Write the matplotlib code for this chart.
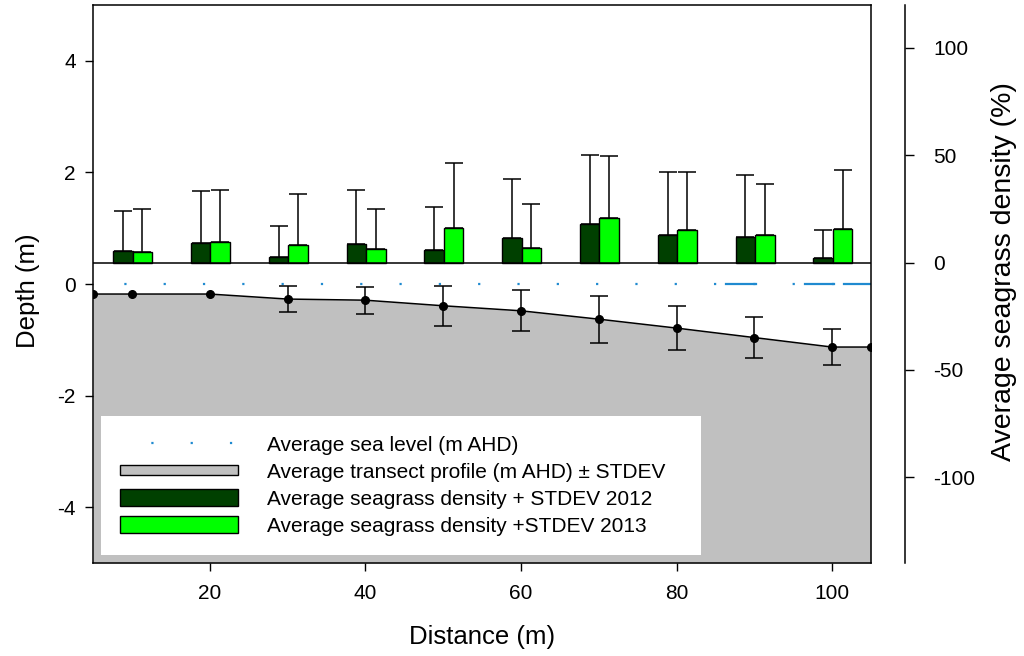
import matplotlib
matplotlib.use("Agg")
from matplotlib import pyplot as plt
import matplotlib.patches as mpatches
from matplotlib.legend_handler import HandlerPatch
import numpy as np

# transect profile (m AHD)
distance = [5, 10, 20, 30, 40, 50, 60, 70, 80, 90, 100, 105]
depth = [-0.18, -0.18, -0.18, -0.27, -0.29, -0.39, -0.48, -0.63, -0.79, -0.96, -1.13, -1.13]
depth_sd = [0, 0, 0, 0.24, 0.24, 0.36, 0.37, 0.42, 0.40, 0.37, 0.32, 0]

# sea level
sea_x = [5, 105]
sea_level = [0.0, 0.0]
sea_dash_x = [(86.4, 90.2), (96.5, 100.3), (101.5, 105)]

# seagrass density (%)
groups = [10, 20, 30, 40, 50, 60, 70, 80, 90, 100]
dens_2012 = [5.5, 9.0, 2.6, 8.7, 5.9, 11.4, 17.9, 12.9, 12.0, 2.2]
sd_2012 = [18.3, 24.2, 14.4, 25.1, 19.9, 27.4, 32.2, 29.3, 28.8, 12.9]
dens_2013 = [4.8, 9.7, 8.3, 6.1, 16.2, 6.9, 20.7, 15.1, 12.8, 15.6]
sd_2013 = [20.1, 24.1, 23.6, 18.8, 30.2, 20.2, 28.8, 27.0, 23.8, 27.7]

labels = ["Average sea level (m AHD)",
          "Average transect profile (m AHD) \u00b1 STDEV",
          "Average seagrass density + STDEV 2012",
          "Average seagrass density +STDEV 2013"]

plt.rcParams['font.family'] = ['Liberation Sans', 'DejaVu Sans']
plt.rcParams['axes.unicode_minus'] = False

dark = "#004000"
bright = "#00ff00"
grey = "#c0c0c0"
blue = "#1f8ad0"

fig = plt.figure(figsize=(10.24, 6.56), dpi=100)
ax = fig.add_axes([93/1024, 1-563/656, 778/1024, 558/656])
ax.set_xlim(5, 105)
ax.set_ylim(-5, 5)

# profile
ax.fill_between(distance, depth, -5, color=grey, lw=0, zorder=1)
ax.plot(distance, depth, color="black", lw=1.1, marker="o", ms=5.5, zorder=3)
idx = [i for i, s in enumerate(depth_sd) if s > 0]
ax.errorbar([distance[i] for i in idx], [depth[i] for i in idx],
            yerr=[depth_sd[i] for i in idx], fmt="none", ecolor="black",
            elinewidth=1.1, capsize=6.3, capthick=1.1, zorder=3)

# sea level
sea_line, = ax.plot(sea_x, sea_level, color=blue, lw=1.6,
                    linestyle=(3.6, (1.0, 16.69)), zorder=2)
for x0, x1 in sea_dash_x:
    ax.plot([x0, x1], [0, 0], color=blue, lw=1.6, zorder=2)

ax.set_xticks([20, 40, 60, 80, 100])
ax.set_yticks([-4, -2, 0, 2, 4])
ax.tick_params(axis='both', direction='out', length=5.8, width=1, labelsize=15)
ax.tick_params(axis='y', pad=6.5)
ax.tick_params(axis='x', pad=9.5)
for sp in ax.spines.values():
    sp.set_linewidth(1.1)

# seagrass bars
ax2 = ax.twinx()
ax2.set_ylim(-140, 120)
g = np.array(groups, dtype=float)
ax2.bar(g - 1.15, dens_2012, width=2.5, color=dark, edgecolor="black", lw=1.0, zorder=2)
ax2.bar(g + 1.35, dens_2013, width=2.5, color=bright, edgecolor="black", lw=1.0, zorder=2)
ax2.errorbar(g - 1.15, dens_2012, yerr=[np.zeros(len(g)), sd_2012], fmt="none",
             ecolor="black", elinewidth=1.1, capsize=6.3, capthick=1.1, zorder=1.5)
ax2.errorbar(g + 1.35, dens_2013, yerr=[np.zeros(len(g)), sd_2013], fmt="none",
             ecolor="black", elinewidth=1.1, capsize=6.3, capthick=1.1, zorder=1.5)
ax2.axhline(0, color="black", lw=1.1, zorder=3)

for name in ["left", "top", "bottom"]:
    ax2.spines[name].set_visible(False)
ax2.spines["right"].set_position(("outward", 24.5))
ax2.spines["right"].set_linewidth(1.1)
ax2.set_yticks([-100, -50, 0, 50, 100])
ax2.tick_params(axis='y', direction='out', length=6.5, width=1, labelsize=15, pad=14)


def thin_rect(legend, orig_handle, xdescent, ydescent, width, height, fontsize):
    return mpatches.Rectangle((-xdescent, -ydescent + height * 0.2), width, height * 0.6)


h_grey = mpatches.Patch(facecolor=grey, edgecolor="black", lw=1.0)
h_dark = mpatches.Patch(facecolor=dark, edgecolor="black", lw=1.0)
h_bright = mpatches.Patch(facecolor=bright, edgecolor="black", lw=1.0)
leg = ax2.legend([sea_line, h_grey, h_dark, h_bright], labels,
                 loc="lower left", bbox_to_anchor=(0.0103, 0.0143, 0.771, 0.249),
                 mode="expand", fontsize=15, frameon=True, fancybox=False,
                 edgecolor="none", facecolor="white", framealpha=1,
                 handlelength=5.66, handleheight=0.85, handletextpad=1.37,
                 labelspacing=0.36, borderpad=0.93, borderaxespad=0,
                 handler_map={h_grey: HandlerPatch(patch_func=thin_rect)})
leg.set_zorder(5)

fig.text(28/1024, 1-291/656, "Depth (m)", rotation=90, ha="center", va="center", fontsize=18.5)
fig.text(1004/1024, 1-272/656, "Average seagrass density (%)", rotation=90,
         ha="center", va="center", fontsize=20.5)
fig.text(482/1024, 1-637/656, "Distance (m)", ha="center", va="center", fontsize=18.5)

fig.savefig("out.png", dpi=100)
